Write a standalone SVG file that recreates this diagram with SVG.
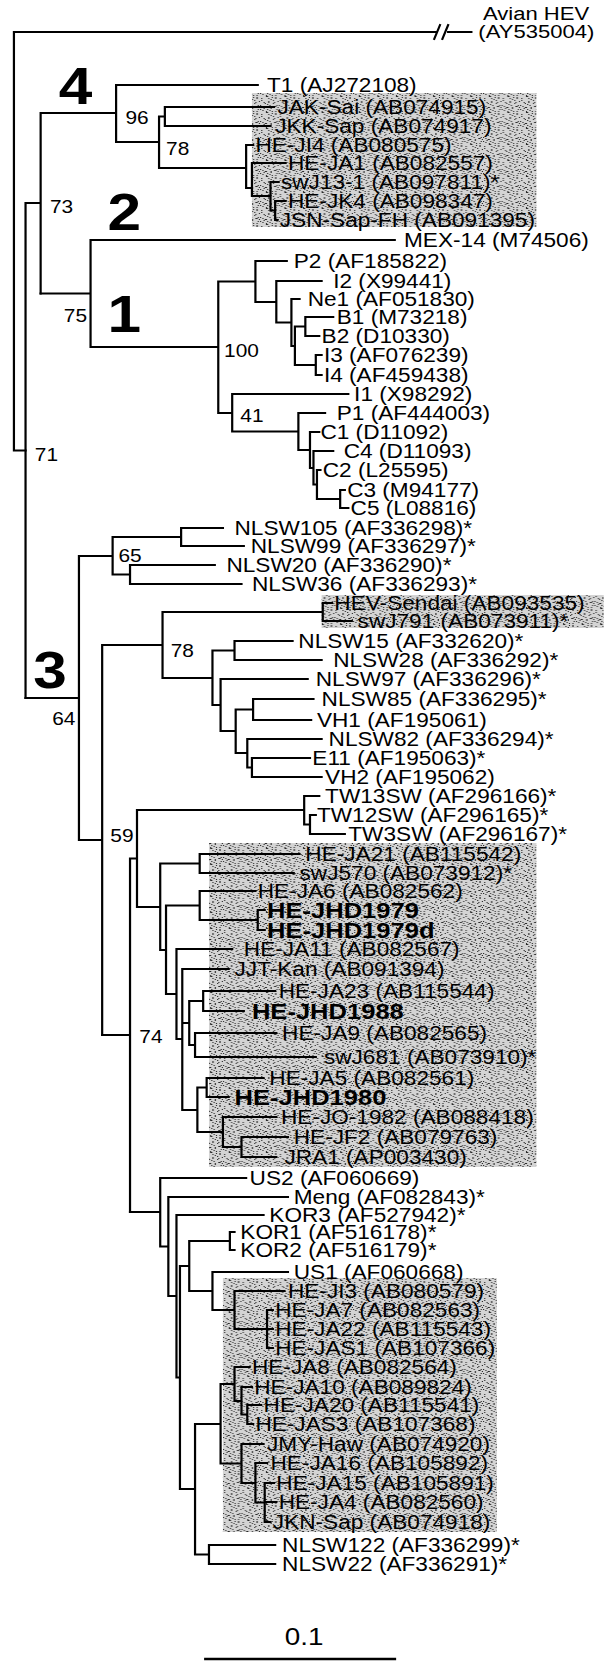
<svg xmlns="http://www.w3.org/2000/svg" width="607" height="1662" viewBox="0 0 607 1662">
<style>
.br{fill:none;stroke:#000;stroke-width:1.9;stroke-linecap:square;vector-effect:non-scaling-stroke}
.t{font-family:"Liberation Sans",Arial,sans-serif;font-size:19.5px;fill:#000}
.b{font-family:"Liberation Sans",Arial,sans-serif;font-size:22px;font-weight:bold;fill:#000}
.bs{font-family:"Liberation Sans",Arial,sans-serif;font-size:18px;fill:#000}
.g{font-family:"Liberation Sans",Arial,sans-serif;font-size:52px;font-weight:bold;fill:#000;text-anchor:middle}
.sh{fill:url(#stip)}
</style>
<defs>
<pattern id="stip" width="16" height="16" patternUnits="userSpaceOnUse">
<rect width="16" height="16" fill="#d4d4d4"/>
<g fill="#2a2a2a">
<rect x="1" y="2" width="1" height="1"/><rect x="5" y="0" width="2" height="1"/><rect x="9" y="3" width="1" height="1"/><rect x="13" y="1" width="1" height="2"/>
<rect x="3" y="6" width="1" height="1"/><rect x="7" y="5" width="1" height="2"/><rect x="11" y="7" width="1" height="1"/><rect x="15" y="5" width="1" height="1"/>
<rect x="0" y="9" width="1" height="1"/><rect x="4" y="11" width="2" height="1"/><rect x="8" y="9" width="1" height="1"/><rect x="12" y="10" width="2" height="1"/>
<rect x="2" y="14" width="1" height="1"/><rect x="6" y="13" width="1" height="1"/><rect x="10" y="15" width="1" height="1"/><rect x="14" y="13" width="1" height="1"/>
<rect x="1" y="4" width="1" height="1"/><rect x="6" y="8" width="1" height="1"/><rect x="10" y="1" width="1" height="1"/><rect x="14" y="9" width="1" height="1"/>
<rect x="3" y="12" width="1" height="1"/><rect x="9" y="11" width="1" height="2"/><rect x="13" y="15" width="1" height="1"/><rect x="5" y="15" width="1" height="1"/>
<rect x="11" y="4" width="1" height="1"/><rect x="0" y="13" width="1" height="1"/><rect x="7" y="2" width="1" height="1"/><rect x="15" y="11" width="1" height="1"/>
<rect x="4" y="7" width="1" height="1"/><rect x="12" y="6" width="1" height="1"/><rect x="8" y="14" width="1" height="1"/><rect x="2" y="10" width="1" height="1"/>
</g>
</pattern>
</defs>
<rect width="607" height="1662" fill="#fff"/>
<g transform="scale(1.161,1)">
<g id="shading">
<rect class="sh" x="217" y="93" width="245" height="134"/>
<rect class="sh" x="277" y="595" width="243" height="33"/>
<rect class="sh" x="180" y="843" width="282" height="324"/>
<rect class="sh" x="192" y="1278" width="236" height="254"/>
</g>

<g id="connectors" class="br">
<path d="M12,32 V450.5 H22 M12,32 H376 M386,32 H406 M374,39 L379,25 M381,39 L386,25"/>
<path d="M22,203 V698 M22,203 H35 M35,113 V293.5 M35,113 H100 M100,85 V142 M100,85 H222 M100,142 H137 M137,116.5 V168 M137,116.5 H142 M142,107 V126 M142,107 H236 M142,126 H233 M137,168 H212 M212,145 V188 M212,145 H218 M212,188 H217 M217,163 V196 M217,163 H246 M217,196 H233 M233,182 V210.5 M233,182 H240 M233,210.5 H237 M237,201 V220 M237,201 H246 M237,220 H239"/>
<path d="M35,293.5 H78 M78,240 V347 M78,240 H340 M78,347 H188 M188,281.5 V413 M188,281.5 H220 M220,261 V302 M220,261 H247 M220,302 H238 M238,281 V322.5 M238,281 H277 M238,322.5 H251 M251,299 V346 M251,299 H258 M251,346 H254 M254,326.5 V365 M254,326.5 H263 M263,317 V336 M263,317 H287 M263,336 H275 M254,365 H272 M272,355 V375 M272,355 H277 M272,375 H277 M188,413 H200 M200,394 V431.5 M200,394 H300 M200,431.5 H257 M257,413 V450 M257,413 H280 M257,450 H267 M267,432 V468 M267,432 H275 M267,468 H270 M270,451 V484.5 M270,451 H287 M270,484.5 H273 M273,470 V499 M273,470 H276 M273,499 H293 M293,490 V508 M293,490 H297 M293,508 H300"/>
<path d="M22,698 H68 M68,556 V840 M68,556 H97 M97,537 V574.5 M97,537 H156 M156,528 V546 M156,528 H192 M156,546 H210 M97,574.5 H112 M112,565 V584 M112,565 H185 M112,584 H208 M68,840 H88 M88,645 V1035 M88,645 H140 M140,612 V678 M140,612 H278 M278,603 V621 M278,603 H286 M278,621 H303 M140,678 H183 M183,650.5 V705 M183,650.5 H202 M202,641 V660 M202,641 H252 M202,660 H277 M183,705 H190 M190,679 V731 M190,679 H265 M190,731 H203 M203,709.5 V753 M203,709.5 H218 M218,699 V720 M218,699 H270 M218,720 H268 M203,753 H213 M213,739 V767.5 M213,739 H277 M213,767.5 H217 M217,758 V777 M217,758 H267 M217,777 H277"/>
<path d="M88,1035 H112 M112,858.5 V1212 M112,858.5 H118 M118,810 V907 M118,810 H262 M262,796 V824.5 M262,796 H275 M262,824.5 H267 M267,815 V834 M267,815 H272 M267,834 H297 M118,907 H138 M138,863.5 V950 M138,863.5 H172 M172,854 V873 M172,854 H258 M172,873 H253 M138,950 H143 M143,905.5 V994 M143,905.5 H172 M172,891 V920 M172,891 H220 M172,920 H222 M222,910 V930 M222,910 H228 M222,930 H228 M143,994 H152 M152,949 V1039 M152,949 H200 M152,1039 H157 M157,969 V1110 M157,969 H197 M157,1023 H163 M163,1001 V1045 M163,1001 H175 M175,991 V1011 M175,991 H237 M175,1011 H210 M163,1045 H168 M168,1033 V1057 M168,1033 H238 M168,1057 H272 M157,1110 H170 M170,1087.5 V1132 M170,1087.5 H178 M178,1078 V1097 M178,1078 H227 M178,1097 H197 M170,1132 H192 M192,1117 V1147 M192,1117 H238 M192,1147 H208 M208,1137 V1157 M208,1137 H248 M208,1157 H238"/>
<path d="M112,1212 H138 M138,1178 V1246.5 M138,1178 H212 M138,1246.5 H145 M145,1197 V1296 M145,1197 H248 M145,1296 H152 M152,1215 V1377.5 M152,1215 H227 M152,1377.5 H155 M155,1266 V1489 M155,1266 H163 M163,1241 V1291 M163,1241 H198 M198,1232 V1250 M198,1232 H202 M198,1250 H202 M163,1291 H183 M183,1272 V1310 M183,1272 H248 M183,1310 H202 M202,1291 V1329 M202,1291 H245 M202,1329 H230 M230,1310 V1348 M230,1310 H235 M230,1329 H235 M230,1348 H235 M155,1489 H168 M168,1424 V1554.5 M168,1424 H190 M190,1384 V1463.5 M190,1384 H202 M202,1367 V1401 M202,1367 H215 M202,1401 H208 M208,1387 V1414.5 M208,1387 H217 M208,1414.5 H213 M213,1405 V1424 M213,1405 H225 M213,1424 H218 M190,1463.5 H208 M208,1444 V1483 M208,1444 H227 M208,1483 H220 M220,1463 V1502.5 M220,1463 H230 M220,1502.5 H228 M228,1483 V1522 M228,1483 H236 M228,1502 H238 M228,1522 H233 M168,1554.5 H180 M180,1545 V1564 M180,1545 H237 M180,1564 H237"/>
<path d="M177,1659 H340" style="stroke-width:2.4"/>
</g>

<g id="clades">
<text class="g" x="65" y="104">4</text>
<text class="g" x="107" y="230">2</text>
<text class="g" x="107" y="332">1</text>
<text class="g" x="43" y="688">3</text>
</g>

<g id="bootstrap">
<text class="bs" x="108" y="124">96</text>
<text class="bs" x="143" y="155">78</text>
<text class="bs" x="43" y="213">73</text>
<text class="bs" x="55" y="322">75</text>
<text class="bs" x="193" y="357">100</text>
<text class="bs" x="207" y="422">41</text>
<text class="bs" x="30" y="461">71</text>
<text class="bs" x="102" y="562">65</text>
<text class="bs" x="147" y="657">78</text>
<text class="bs" x="45" y="725">64</text>
<text class="bs" x="95" y="842">59</text>
<text class="bs" x="120" y="1043">74</text>
</g>

<g id="tip-avian"><text class="t" x="416" y="20" style="font-size:19px">Avian HEV</text><text class="t" x="412" y="38" style="font-size:19px">(AY535004)</text></g>
<g id="tip-T1"><text class="t" x="230" y="91.8">T1 (AJ272108)</text></g>
<g id="tip-JAK-Sai"><text class="t" x="239" y="113.8">JAK-Sai (AB074915)</text></g>
<g id="tip-JKK-Sap"><text class="t" x="237" y="132.8">JKK-Sap (AB074917)</text></g>
<g id="tip-HE-JI4"><text class="t" x="220" y="151.8">HE-JI4 (AB080575)</text></g>
<g id="tip-HE-JA1"><text class="t" x="248" y="169.8">HE-JA1 (AB082557)</text></g>
<g id="tip-swJ13-1"><text class="t" x="242" y="188.8">swJ13-1 (AB097811)*</text></g>
<g id="tip-HE-JK4"><text class="t" x="248" y="207.8">HE-JK4 (AB098347)</text></g>
<g id="tip-JSN-Sap-FH"><text class="t" x="241" y="226.8">JSN-Sap-FH (AB091395)</text></g>
<g id="tip-MEX-14"><text class="t" x="348" y="246.8">MEX-14 (M74506)</text></g>
<g id="tip-P2"><text class="t" x="253" y="267.8">P2 (AF185822)</text></g>
<g id="tip-I2"><text class="t" x="287" y="287.8">I2 (X99441)</text></g>
<g id="tip-Ne1"><text class="t" x="265" y="305.8">Ne1 (AF051830)</text></g>
<g id="tip-B1"><text class="t" x="290" y="323.8">B1 (M73218)</text></g>
<g id="tip-B2"><text class="t" x="277" y="342.8">B2 (D10330)</text></g>
<g id="tip-I3"><text class="t" x="279" y="361.8">I3 (AF076239)</text></g>
<g id="tip-I4"><text class="t" x="279" y="381.8">I4 (AF459438)</text></g>
<g id="tip-I1"><text class="t" x="305" y="400.8">I1 (X98292)</text></g>
<g id="tip-P1"><text class="t" x="290" y="419.8">P1 (AF444003)</text></g>
<g id="tip-C1"><text class="t" x="276" y="438.8">C1 (D11092)</text></g>
<g id="tip-C4"><text class="t" x="296" y="457.8">C4 (D11093)</text></g>
<g id="tip-C2"><text class="t" x="278" y="476.8">C2 (L25595)</text></g>
<g id="tip-C3"><text class="t" x="299" y="496.8">C3 (M94177)</text></g>
<g id="tip-C5"><text class="t" x="302" y="514.8">C5 (L08816)</text></g>
<g id="tip-NLSW105"><text class="t" x="202" y="534.8">NLSW105 (AF336298)*</text></g>
<g id="tip-NLSW99"><text class="t" x="216" y="552.8">NLSW99 (AF336297)*</text></g>
<g id="tip-NLSW20"><text class="t" x="195" y="571.8">NLSW20 (AF336290)*</text></g>
<g id="tip-NLSW36"><text class="t" x="217" y="590.8">NLSW36 (AF336293)*</text></g>
<g id="tip-HEV-Sendai"><text class="t" x="288" y="609.8">HEV-Sendai (AB093535)</text></g>
<g id="tip-swJ791"><text class="t" x="308" y="627.8">swJ791 (AB073911)*</text></g>
<g id="tip-NLSW15"><text class="t" x="257" y="647.8">NLSW15 (AF332620)*</text></g>
<g id="tip-NLSW28"><text class="t" x="287" y="666.8">NLSW28 (AF336292)*</text></g>
<g id="tip-NLSW97"><text class="t" x="272" y="685.8">NLSW97 (AF336296)*</text></g>
<g id="tip-NLSW85"><text class="t" x="277" y="705.8">NLSW85 (AF336295)*</text></g>
<g id="tip-VH1"><text class="t" x="273" y="726.8">VH1 (AF195061)</text></g>
<g id="tip-NLSW82"><text class="t" x="283" y="745.8">NLSW82 (AF336294)*</text></g>
<g id="tip-E11"><text class="t" x="269" y="764.8">E11 (AF195063)*</text></g>
<g id="tip-VH2"><text class="t" x="280" y="783.8">VH2 (AF195062)</text></g>
<g id="tip-TW13SW"><text class="t" x="280" y="802.8">TW13SW (AF296166)*</text></g>
<g id="tip-TW12SW"><text class="t" x="273" y="821.8">TW12SW (AF296165)*</text></g>
<g id="tip-TW3SW"><text class="t" x="300" y="840.8">TW3SW (AF296167)*</text></g>
<g id="tip-HE-JA21"><text class="t" x="263" y="860.8">HE-JA21 (AB115542)</text></g>
<g id="tip-swJ570"><text class="t" x="258" y="879.8">swJ570 (AB073912)*</text></g>
<g id="tip-HE-JA6"><text class="t" x="222" y="897.8">HE-JA6 (AB082562)</text></g>
<g id="tip-HE-JHD1979"><text class="b" x="230" y="917.8">HE-JHD1979</text></g>
<g id="tip-HE-JHD1979d"><text class="b" x="230" y="937.8">HE-JHD1979d</text></g>
<g id="tip-HE-JA11"><text class="t" x="210" y="955.8">HE-JA11 (AB082567)</text></g>
<g id="tip-JJT-Kan"><text class="t" x="202" y="975.8">JJT-Kan (AB091394)</text></g>
<g id="tip-HE-JA23"><text class="t" x="240" y="997.8">HE-JA23 (AB115544)</text></g>
<g id="tip-HE-JHD1988"><text class="b" x="217" y="1018.8">HE-JHD1988</text></g>
<g id="tip-HE-JA9"><text class="t" x="243" y="1039.8">HE-JA9 (AB082565)</text></g>
<g id="tip-swJ681"><text class="t" x="279" y="1063.8">swJ681 (AB073910)*</text></g>
<g id="tip-HE-JA5"><text class="t" x="232" y="1084.8">HE-JA5 (AB082561)</text></g>
<g id="tip-HE-JHD1980"><text class="b" x="202" y="1104.8">HE-JHD1980</text></g>
<g id="tip-HE-JO-1982"><text class="t" x="242" y="1123.8">HE-JO-1982 (AB088418)</text></g>
<g id="tip-HE-JF2"><text class="t" x="253" y="1143.8">HE-JF2 (AB079763)</text></g>
<g id="tip-JRA1"><text class="t" x="245" y="1163.8">JRA1 (AP003430)</text></g>
<g id="tip-US2"><text class="t" x="215" y="1184.8">US2 (AF060669)</text></g>
<g id="tip-Meng"><text class="t" x="253" y="1203.8">Meng (AF082843)*</text></g>
<g id="tip-KOR3"><text class="t" x="232" y="1221.8">KOR3 (AF527942)*</text></g>
<g id="tip-KOR1"><text class="t" x="207" y="1238.8">KOR1 (AF516178)*</text></g>
<g id="tip-KOR2"><text class="t" x="207" y="1256.8">KOR2 (AF516179)*</text></g>
<g id="tip-US1"><text class="t" x="253" y="1278.8">US1 (AF060668)</text></g>
<g id="tip-HE-JI3"><text class="t" x="248" y="1297.8">HE-JI3 (AB080579)</text></g>
<g id="tip-HE-JA7"><text class="t" x="237" y="1316.8">HE-JA7 (AB082563)</text></g>
<g id="tip-HE-JA22"><text class="t" x="237" y="1335.8">HE-JA22 (AB115543)</text></g>
<g id="tip-HE-JAS1"><text class="t" x="237" y="1354.8">HE-JAS1 (AB107366)</text></g>
<g id="tip-HE-JA8"><text class="t" x="217" y="1373.8">HE-JA8 (AB082564)</text></g>
<g id="tip-HE-JA10"><text class="t" x="219" y="1393.8">HE-JA10 (AB089824)</text></g>
<g id="tip-HE-JA20"><text class="t" x="227" y="1411.8">HE-JA20 (AB115541)</text></g>
<g id="tip-HE-JAS3"><text class="t" x="220" y="1430.8">HE-JAS3 (AB107368)</text></g>
<g id="tip-JMY-Haw"><text class="t" x="230" y="1450.8">JMY-Haw (AB074920)</text></g>
<g id="tip-HE-JA16"><text class="t" x="233" y="1469.8">HE-JA16 (AB105892)</text></g>
<g id="tip-HE-JA15"><text class="t" x="238" y="1489.8">HE-JA15 (AB105891)</text></g>
<g id="tip-HE-JA4"><text class="t" x="240" y="1508.8">HE-JA4 (AB082560)</text></g>
<g id="tip-JKN-Sap"><text class="t" x="235" y="1528.8">JKN-Sap (AB074918)</text></g>
<g id="tip-NLSW122"><text class="t" x="243" y="1551.8">NLSW122 (AF336299)*</text></g>
<g id="tip-NLSW22"><text class="t" x="243" y="1570.8">NLSW22 (AF336291)*</text></g>

<g id="scale"><text class="t" x="262" y="1645" style="font-size:24px;text-anchor:middle">0.1</text></g>
</g>
</svg>
